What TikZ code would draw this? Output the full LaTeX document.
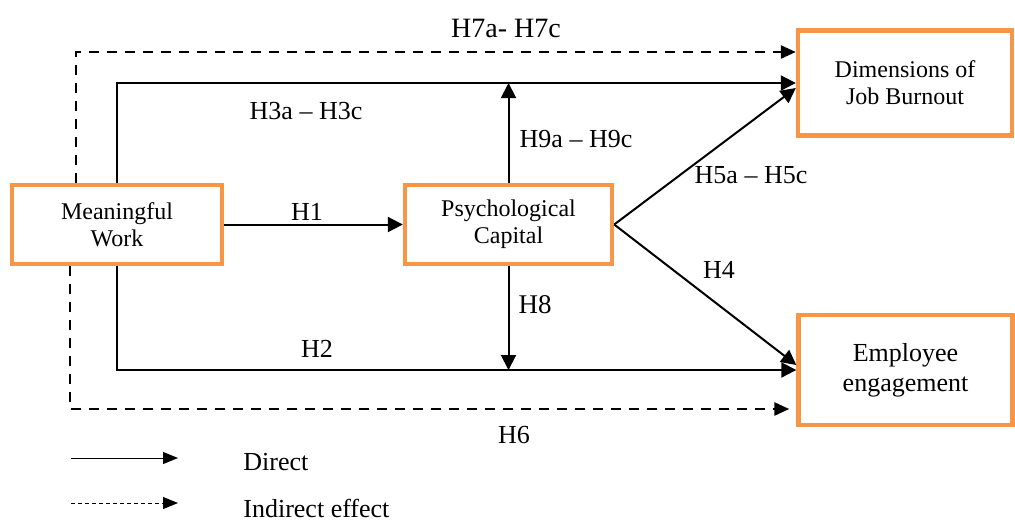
\documentclass[tikz,border=0pt]{standalone}
\usepackage{fontspec}
\setmainfont{Liberation Serif}
\usetikzlibrary{arrows.meta, positioning, calc}
\definecolor{borange}{HTML}{F79646}
\tikzset{
  >={Triangle[length=7.5pt,width=7.5pt]},
  varbox/.style={
    draw=borange, line width=2.2pt, fill=white, align=center,
    inner sep=2pt, font=\fontsize{12}{13.5}\selectfont
  },
  direct/.style={->, line width=1pt, draw=black},
  indirect/.style={-{Triangle[length=7.5pt,width=6.5pt]}, line width=1.3pt, draw=black, dash pattern=on 5pt off 4pt},
  legdirect/.style={-{Triangle[length=7.5pt,width=6pt]}, line width=0.5pt},
  legindirect/.style={legdirect, dash pattern=on 2pt off 1.5pt},
  hyp/.style={font=\fontsize{13}{15}\selectfont, anchor=base, inner sep=0pt}
}

\begin{document}
\begin{tikzpicture}[x=0.5pt, y=-0.5pt]
  \useasboundingbox (0,0) rectangle (1015,521);

  % variables
  \node[varbox, minimum width=105pt, minimum height=39.5pt] (mw) at (117,224.5) {Meaningful\\Work};
  \node[varbox, minimum width=103.5pt, minimum height=39.5pt] (pc) at (508.5,224.5) {Psychological\\Capital};
  \node[varbox, minimum width=107pt, minimum height=52.5pt] (jb) at (905,83) {Dimensions of\\Job Burnout};
  \node[varbox, minimum width=107pt, minimum height=55pt, font=\fontsize{13}{15}\selectfont] (ee) at (905.5,370) {Employee\\engagement};

  % paths
  \draw[indirect] ([xshift=-20.5pt]mw.north) |- ([yshift=15.5pt]jb.west);
  \draw[direct] (mw.north) |- (jb.west);
  \draw[direct] (pc.north) -- (pc.north |- jb.west);
  \draw[direct] (mw) -- (pc);
  \draw[direct] (pc.east) -- ([yshift=-2.5pt]jb.west);
  \draw[direct] (pc.east) -- ([yshift=2.5pt]ee.west);
  \draw[direct] (pc.south) -- (pc.south |- ee.west);
  \draw[direct] (mw.south) |- (ee.west);
  \draw[indirect] ([xshift=-23.5pt]mw.south) |- ([xshift=-3.5pt,yshift=-19.5pt]ee.west);

  % hypotheses
  \node[hyp, font=\fontsize{14}{16}\selectfont] (h7) at (506,37) {H7a- H7c};
  \node[hyp] (h3) at (306,119) {H3a -- H3c};
  \node[hyp] (h9) at (576,147) {H9a -- H9c};
  \node[hyp] (h5) at (751,183) {H5a -- H5c};
  \node[hyp] (h1) at (307,220) {H1};
  \node[hyp] (h4) at (719,278) {H4};
  \node[hyp, font=\fontsize{13.5}{15}\selectfont] (h8) at (535,313) {H8};
  \node[hyp] (h2) at (317,357) {H2};
  \node[hyp] (h6) at (514,443) {H6};

  % legend
  \coordinate (lda) at (71,458);
  \coordinate (ldb) at (178,458);
  \coordinate (lia) at (71,503);
  \coordinate (lib) at (178,503);
  \draw[legdirect] (lda) -- (ldb);
  \draw[legindirect] (lia) -- (lib);
  \node[hyp, anchor=base west] (ldir) at (243,470) {Direct};
  \node[hyp, anchor=base west] (lind) at (243,517) {Indirect effect};
\end{tikzpicture}
\end{document}
